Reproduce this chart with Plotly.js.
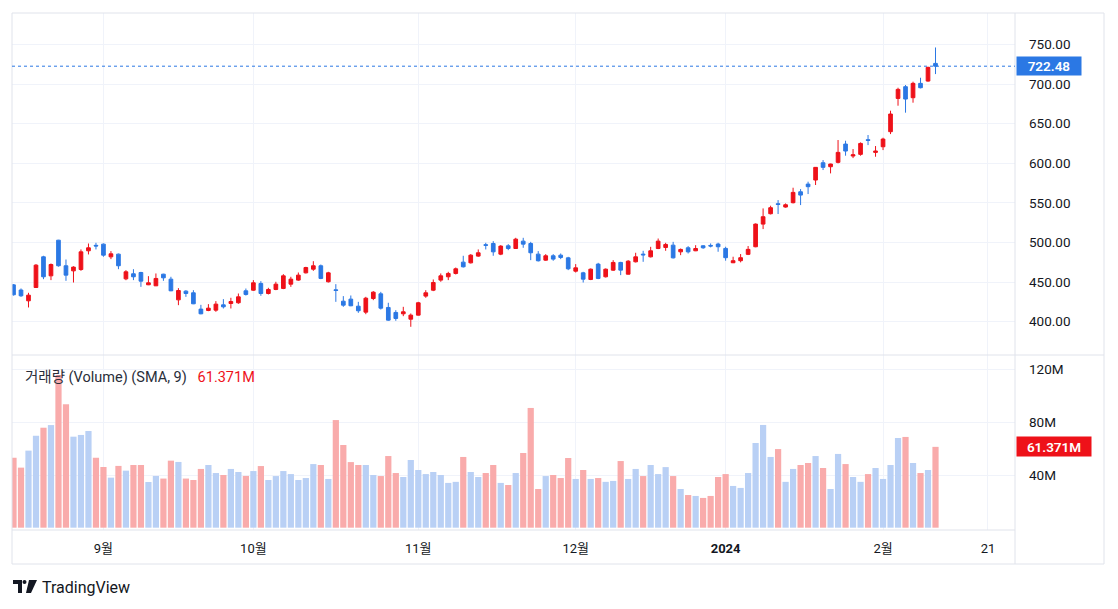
<!DOCTYPE html>
<html>
<head>
<meta charset="utf-8">
<script src="https://cdn.plot.ly/plotly-3.0.1.min.js"></script>
<style>
html,body{margin:0;padding:0;background:#ffffff;}
#chart{width:1118px;height:609px;}
</style>
</head>
<body>
<div id="chart"></div>
<script>
// ---------------- DATA ----------------
const dates = [
 '2023-08-16','2023-08-17','2023-08-18','2023-08-21','2023-08-22','2023-08-23','2023-08-24','2023-08-25','2023-08-28','2023-08-29','2023-08-30','2023-08-31',
 '2023-09-01','2023-09-05','2023-09-06','2023-09-07','2023-09-08','2023-09-11','2023-09-12','2023-09-13','2023-09-14','2023-09-15','2023-09-18','2023-09-19','2023-09-20','2023-09-21','2023-09-22','2023-09-25','2023-09-26','2023-09-27','2023-09-28','2023-09-29',
 '2023-10-02','2023-10-03','2023-10-04','2023-10-05','2023-10-06','2023-10-09','2023-10-10','2023-10-11','2023-10-12','2023-10-13','2023-10-16','2023-10-17','2023-10-18','2023-10-19','2023-10-20','2023-10-23','2023-10-24','2023-10-25','2023-10-26','2023-10-27','2023-10-30','2023-10-31',
 '2023-11-01','2023-11-02','2023-11-03','2023-11-06','2023-11-07','2023-11-08','2023-11-09','2023-11-10','2023-11-13','2023-11-14','2023-11-15','2023-11-16','2023-11-17','2023-11-20','2023-11-21','2023-11-22','2023-11-24','2023-11-27','2023-11-28','2023-11-29','2023-11-30',
 '2023-12-01','2023-12-04','2023-12-05','2023-12-06','2023-12-07','2023-12-08','2023-12-11','2023-12-12','2023-12-13','2023-12-14','2023-12-15','2023-12-18','2023-12-19','2023-12-20','2023-12-21','2023-12-22','2023-12-26','2023-12-27','2023-12-28','2023-12-29',
 '2024-01-02','2024-01-03','2024-01-04','2024-01-05','2024-01-08','2024-01-09','2024-01-10','2024-01-11','2024-01-12','2024-01-16','2024-01-17','2024-01-18','2024-01-19','2024-01-22','2024-01-23','2024-01-24','2024-01-25','2024-01-26','2024-01-29','2024-01-30','2024-01-31',
 '2024-02-01','2024-02-02','2024-02-05','2024-02-06','2024-02-07','2024-02-08','2024-02-09','2024-02-12'
];
const openP = [
 446.5,440,426.4,443.2,481.9,457.9,502.9,470.6,464.2,465.9,489.5,496.4,
 497.9,481.9,485.3,454.1,460.5,462.1,446.6,445.3,460,453.7,427.6,438.6,436.5,415.9,414.2,414.6,421.3,423,423.9,439,
 439.8,448.3,435.6,440.7,442,447.4,452.5,461.7,466.3,470.6,450.4,440.3,425.9,428.5,419.6,412.1,429.3,435.2,418,411.7,410,403.2,
 408.3,432.3,439.8,452.5,456.7,460.9,475.2,474.3,482.8,497.2,498.7,485.3,495.8,492.4,501.7,498.7,485.3,477.7,483.2,484,480.6,
 463.8,461.7,453.3,472.7,456.7,465.1,474.8,460,475.6,485.3,481.9,492.4,493.7,496.6,488.2,493.3,489.5,495.8,496.3,498,
 492.5,474.4,477,485,494.6,523.2,536.3,548.9,544.7,550.2,564,573.7,578.8,600.6,595.6,601.1,624.2,609.1,611.2,629.7,613.7,
 620.8,639.8,681.8,696.6,682.7,700.8,703.7,726
];
const highP = [
 447.5,442,436.5,472.7,483.2,473.5,503.3,478.5,470,491.2,498.7,499.6,
 498.7,489.1,486,465.1,466.3,463,457.5,460.9,460.5,456.7,442.4,439.8,439.8,421.3,422.2,426,428.5,430.2,435.6,441.9,
 452.5,451.2,442.8,450.4,460,456.7,462.1,469.3,476.4,472.2,463,447.4,432.3,433.1,425.1,431.4,438.6,437.7,423.9,414.6,418.8,410.4,
 425.1,439.8,453.3,460.9,463,468.4,483.2,485.3,491.2,499.6,501.7,496.6,497.9,505.9,505.9,500.8,489.1,485.3,485.3,486.1,481.9,
 472.7,463,467.2,474.3,467.2,477.7,475.6,477.7,487,489.5,494.5,505,499.6,500.8,492.4,495.4,496.6,496.6,498.8,499.7,
 494.6,482,485.4,495.5,524,543,546.4,553.5,549.3,569.1,567.4,576.7,595.2,604,599.4,629.3,628.4,617.9,626.3,635.6,621.7,
 632.2,666.3,695.3,698.7,702.9,707.9,721.8,746.1
];
const lowP = [
 433,431.4,418,442.8,453.7,452.5,469.5,451.6,449.5,464.2,484.9,491.2,
 482,479,466.3,452.4,452.5,444,446.2,445,451.6,438.6,420.9,431.4,422.2,409.4,413.3,412.5,416.7,416.7,422.6,433,
 439,432.7,434.4,439.8,441.1,444,451.6,460.9,464.2,453.7,449.5,425.1,418.8,419.6,411.2,409.5,427.2,415.4,401.2,401.2,407,393.6,
 407.9,430.2,438.6,450.4,452.5,459.6,468.4,473.5,481.9,491.2,483.2,484,490.3,492,493.3,477.7,476,476.9,476.9,479,465.1,
 462.1,449.5,452.5,453.7,455.8,464.2,458.8,459.6,474.8,475.6,481.1,491.6,489.5,479.8,484,486.1,489.1,492,493.8,488.3,
 477,474,474.9,484.1,494,516.9,535.4,535.9,543.9,549.3,547.2,561.1,572.5,591.4,587.2,599.8,609.5,606.5,609.5,622.9,608.2,
 616.6,636.8,672.6,663.8,676.4,694.5,702.9,712.5
];
const closeP = [
 434,432.7,433.5,471.4,456.7,472.2,470.6,458.8,468.9,488.2,493.3,495.6,
 484,485.7,470.6,463,456.7,451.2,449.1,454.6,455.4,439,439.4,435.6,422.6,410,417.1,422.2,418.8,425.5,431.4,434.4,
 449.1,435.6,440.7,447.4,457.9,453.7,458.8,468.4,470.6,454.6,461.7,439.4,420.9,420.1,413.8,429.7,437.3,417.1,402,404.1,412.5,408.3,
 423.9,436.5,449.5,457.9,460.9,466.8,469.3,484,487,496.4,488.2,495.4,492.4,504.2,497.9,487,476.9,483.2,479,481.1,466.8,
 468,453.7,466.3,454.6,466.3,474.8,465.1,476.4,481.9,484.4,489.5,501.7,497.5,480.6,491.2,488.2,492.4,493.3,495.5,494.6,
 480.8,477,480.8,491.3,523.2,532.5,543.9,548,547.6,563.2,559.8,570.4,594.8,594.8,599,613.7,615.4,610.7,625,628.8,615.4,
 630.5,662.1,693.2,681,700.8,695.3,721,722.48
];
const volumeM = [
 53.1,45.6,58.5,69.8,75.9,77.9,115.9,93.7,69.1,70.4,73.4,53.1,
 46.1,38.0,46.9,43.3,47.6,47.6,34.7,39.3,37.3,50.9,49.9,37.3,36.2,44.6,47.6,41.5,40.0,44.6,42.3,39.3,
 43.0,46.8,36.2,39.2,43.0,40.7,36.2,37.7,48.3,47.6,37.0,81.7,62.8,49.8,47.6,47.6,40.0,39.2,54.4,41.5,38.5,51.4,
 43.8,40.7,42.3,40.0,34.0,34.8,53.7,42.3,38.5,41.5,47.6,34.0,32.4,41.5,56.7,90.9,29.4,39.2,40.0,37.7,52.9,
 37.0,43.8,37.0,37.7,34.8,35.5,50.6,37.0,44.6,39.2,47.6,40.7,46.0,39.2,29.4,24.8,24.1,22.6,24.1,38.5,
 40.7,31.7,30.2,41.5,64.3,78.0,53.7,59.7,34.8,44.6,47.6,49.1,54.4,45.3,29.4,56.0,48.3,38.5,34.8,40.7,45.3,
 37.0,47.6,68.1,68.9,49.1,41.5,43.8,61.371
];
const tickDates = ['2023-09-01','2023-10-02','2023-11-01','2023-12-01','2024-01-02','2024-02-01','2024-02-21'];
const tickLabels = ['9월','10월','11월','12월','<b>2024</b>','2월','21'];
const priceTicks = [400,450,500,550,600,650,700,750];
const volumeTicks = [40,80,120];
const volumeTickLabels = ['40M','80M','120M'];
const volumeTitle = '거래량 (Volume) (SMA, 9)';

// ---------------- STYLE / GEOMETRY ----------------
const RED = '#ee1119', BLUE = '#2b78e4';
const VRED = '#f9abab', VBLUE = '#b9d0f5';
const GRID = '#f0f3fa', BORDER = '#e0e3eb', TXT = '#131722';
const FONT = 'Roboto, "Noto Sans CJK KR", sans-serif';
const W = 1118, H = 609, L = 12, R = 1015, T = 13, B = 530;
const PW = R - L, PH = B - T;
const px = x => (x - L) / PW;
const py = y => (B - y) / PH;
const split = py(355);

const idx = dates.map((d, i) => i);
function dateIndex(d) {
  const k = dates.indexOf(d);
  if (k >= 0) return k;
  let t = new Date(dates[dates.length - 1] + 'T00:00:00Z');
  const target = new Date(d + 'T00:00:00Z');
  let n = dates.length - 1;
  while (t < target) {
    t.setUTCDate(t.getUTCDate() + 1);
    const wd = t.getUTCDay();
    if (wd !== 0 && wd !== 6) n++;
  }
  return n;
}
const tickVals = tickDates.map(dateIndex);
const volColors = closeP.map((c, i) => c < openP[i] ? VRED : VBLUE);
const lastClose = closeP[closeP.length - 1];
const lastVol = volumeM[volumeM.length - 1];

const traces = [
  {
    type: 'candlestick', x: idx, open: openP, high: highP, low: lowP, close: closeP,
    xaxis: 'x', yaxis: 'y',
    increasing: {line: {color: RED, width: 1}, fillcolor: RED},
    decreasing: {line: {color: BLUE, width: 1}, fillcolor: BLUE},
    whiskerwidth: 0, hoverinfo: 'skip', showlegend: false
  },
  {
    type: 'bar', x: idx, y: volumeM, xaxis: 'x', yaxis: 'y2',
    marker: {color: volColors, line: {width: 0}}, hoverinfo: 'skip', showlegend: false
  }
];

const layout = {
  width: W, height: H,
  margin: {l: L, r: W - R, t: T, b: H - B, pad: 0},
  paper_bgcolor: '#ffffff', plot_bgcolor: '#ffffff',
  font: {family: FONT, size: 13, color: TXT},
  bargap: 0.17,
  showlegend: false,
  xaxis: {
    range: [(L - 13.5) / 7.496, (R - 13.5) / 7.496],
    anchor: 'y2', tickvals: tickVals, ticktext: tickLabels,
    showgrid: true, gridcolor: GRID, gridwidth: 1, zeroline: false, showline: false,
    ticks: '', ticklabelstandoff: 9, tickfont: {family: FONT, size: 13, color: TXT},
    rangeslider: {visible: false}, fixedrange: true
  },
  yaxis: {
    domain: [split, 1], range: [358, 789.6], side: 'right', anchor: 'x',
    tickvals: priceTicks, ticktext: priceTicks.map(v => v.toFixed(2)),
    showgrid: true, gridcolor: GRID, zeroline: false, showline: false,
    ticks: '', ticklabelstandoff: 13, tickfont: {family: FONT, size: 13.5, color: TXT}, fixedrange: true
  },
  yaxis2: {
    domain: [0, split], range: [-1.75, 131.1], side: 'right', anchor: 'x',
    tickvals: volumeTicks, ticktext: volumeTickLabels,
    showgrid: true, gridcolor: GRID, zeroline: false, showline: false,
    ticks: '', ticklabelstandoff: 13, tickfont: {family: FONT, size: 13.5, color: TXT}, fixedrange: true
  },
  shapes: [
    {type: 'rect', xref: 'paper', yref: 'paper', x0: 0, x1: px(1104), y0: py(564), y1: 1, line: {color: BORDER, width: 1}, fillcolor: 'rgba(0,0,0,0)'},
    {type: 'line', xref: 'paper', yref: 'paper', x0: 1, x1: 1, y0: py(564), y1: 1, line: {color: BORDER, width: 1}},
    {type: 'line', xref: 'paper', yref: 'paper', x0: 0, x1: px(1104), y0: split, y1: split, line: {color: BORDER, width: 1}},
    {type: 'line', xref: 'paper', yref: 'paper', x0: 0, x1: 1, y0: 0, y1: 0, line: {color: BORDER, width: 1}},
    {type: 'line', xref: 'paper', yref: 'y', x0: 0, x1: 1, y0: lastClose, y1: lastClose, line: {color: BLUE, width: 1, dash: 'dot'}},
    // TradingView logo
    {type: 'rect', xref: 'paper', yref: 'paper', x0: px(13), x1: px(22), y0: py(584), y1: py(580), fillcolor: TXT, line: {width: 0}},
    {type: 'rect', xref: 'paper', yref: 'paper', x0: px(18), x1: px(22), y0: py(593), y1: py(580), fillcolor: TXT, line: {width: 0}},
    {type: 'circle', xref: 'paper', yref: 'paper', x0: px(22.5), x1: px(26.5), y0: py(584), y1: py(580), fillcolor: TXT, line: {width: 0}},
    {type: 'path', xref: 'paper', yref: 'paper',
     path: `M ${px(29)} ${py(580)} L ${px(37)} ${py(580)} L ${px(31)} ${py(593)} L ${px(26)} ${py(593)} Z`,
     fillcolor: TXT, line: {width: 0}}
  ],
  annotations: [
    {xref: 'paper', yref: 'paper', x: px(23), y: py(377), xanchor: 'left', yanchor: 'middle', showarrow: false,
     text: volumeTitle + '   <span style="color:' + RED + '">' + lastVol.toFixed(3) + 'M</span>',
     font: {family: FONT, size: 14.5, color: '#2a2e39'}},
    {xref: 'paper', yref: 'y', x: px(1016), y: lastClose, xanchor: 'left', yanchor: 'middle', showarrow: false,
     text: lastClose.toFixed(2), bgcolor: BLUE, borderpad: 2, width: 60, height: 14, align: 'center',
     font: {family: FONT, size: 13.5, color: '#ffffff', weight: 600}},
    {xref: 'paper', yref: 'y2', x: px(1016), y: lastVol, xanchor: 'left', yanchor: 'middle', showarrow: false,
     text: lastVol.toFixed(3) + 'M', bgcolor: RED, borderpad: 2, width: 70, height: 15, align: 'center',
     font: {family: FONT, size: 13.5, color: '#ffffff', weight: 600}},
    {xref: 'paper', yref: 'paper', x: px(40), y: py(587), xanchor: 'left', yanchor: 'middle', showarrow: false,
     text: 'TradingView', font: {family: FONT, size: 16, color: TXT}}
  ]
};

Plotly.newPlot('chart', traces, layout, {displayModeBar: false, staticPlot: true});
</script>
</body>
</html>
